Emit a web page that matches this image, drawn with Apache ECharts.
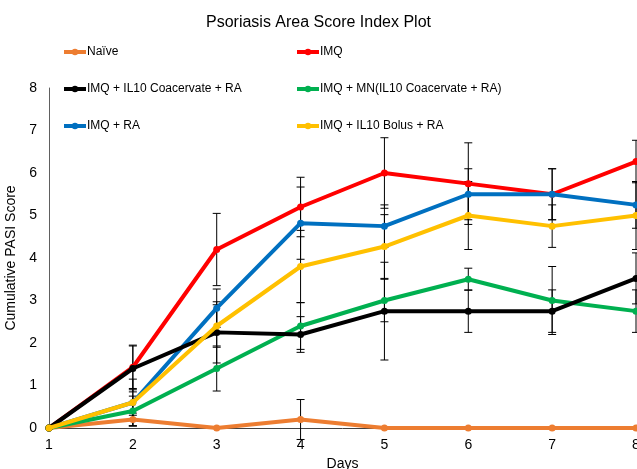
<!DOCTYPE html>
<html><head><meta charset="utf-8">
<script src="https://cdn.jsdelivr.net/npm/echarts@6/dist/echarts.min.js"></script>
<style>html,body{margin:0;padding:0;background:#fff}#c{width:637px;height:469px}</style>
</head><body><div id="c"></div>
<script>
var days = [1, 2, 3, 4, 5, 6, 7, 8];
var seriesNames = ['Naïve', 'IMQ', 'IMQ + IL10 Coacervate + RA', 'IMQ + MN(IL10 Coacervate + RA)', 'IMQ + RA', 'IMQ + IL10 Bolus + RA'];
var naive = [0, 0.2, 0, 0.2, 0, 0, 0, 0];
var imq = [0, 1.43, 4.2, 5.2, 6.0, 5.75, 5.5, 6.27];
var coacervate = [0, 1.4, 2.25, 2.2, 2.75, 2.75, 2.75, 3.52];
var mn = [0, 0.4, 1.4, 2.4, 3.0, 3.5, 3.0, 2.75];
var ra = [0, 0.6, 2.82, 4.82, 4.75, 5.5, 5.5, 5.25];
var bolus = [0, 0.6, 2.4, 3.8, 4.27, 5.0, 4.75, 5.0];
var naiveErr = [0, 0.15, 0, 0.47, 0, 0, 0, 0];
var imqErr = [0, 0.5, 0.85, 0.7, 0.83, 0.96, 0.6, 0.5];
var coacervateErr = [0, 0.55, 0.72, 0.42, 1.15, 0.5, 0.5, 0.6];
var mnErr = [0, 0.35, 0.53, 0.55, 0.5, 0.26, 0.8, 0.5];
var raErr = [0, 0.55, 0.45, 0.85, 0.5, 0.6, 0.6, 0.55];
var bolusErr = [0, 0.3, 0.5, 0.85, 0.75, 0.8, 0.5, 0.8];
var colors = ['#ED7D31', '#FF0000', '#000000', '#00B050', '#0070C0', '#FFC000'];

var values = [naive, imq, coacervate, mn, ra, bolus];
var errs = [naiveErr, imqErr, coacervateErr, mnErr, raErr, bolusErr];

function errData(v, e) {
  var out = [];
  for (var i = 0; i < days.length; i++) {
    if (e[i] > 0) out.push([days[i], v[i] - e[i], v[i] + e[i]]);
  }
  return out;
}
function renderErr(params, api) {
  var x = api.value(0);
  var lo = api.coord([x, api.value(1)]);
  var hi = api.coord([x, api.value(2)]);
  var w = 4;
  var st = {stroke: '#000', lineWidth: 1};
  return {type: 'group', children: [
    {type: 'line', shape: {x1: hi[0], y1: hi[1], x2: lo[0], y2: lo[1]}, style: st},
    {type: 'line', shape: {x1: hi[0] - w, y1: hi[1], x2: hi[0] + w, y2: hi[1]}, style: st},
    {type: 'line', shape: {x1: lo[0] - w, y1: lo[1], x2: lo[0] + w, y2: lo[1]}, style: st}
  ]};
}

var drawOrder = [0, 1, 4, 3, 2, 5];
var series = [];
for (var k = 0; k < 6; k++) {
  series.push({type: 'custom', name: seriesNames[k] + ' err', renderItem: renderErr, data: errData(values[k], errs[k]), z: 1, silent: true, clip: false});
}
drawOrder.forEach(function (k, idx) {
  series.push({
    type: 'line', name: seriesNames[k],
    data: days.map(function (d, i) { return [d, values[k][i]]; }),
    color: colors[k], symbol: 'circle', symbolSize: 7, showSymbol: true,
    lineStyle: {width: 4, color: colors[k]}, itemStyle: {color: colors[k]},
    z: 2 + idx, clip: false
  });
});

var legendBase = {orient: 'vertical', padding: 0, itemGap: 25, itemWidth: 22, itemHeight: 8,
  lineStyle: {width: 4}, itemStyle: {borderWidth: 0},
  textStyle: {fontFamily: 'Liberation Sans, Arial', fontSize: 12, color: '#000', padding: [0, 0, 0, -4]}};
var chart = echarts.init(document.getElementById('c'));
chart.setOption({
  animation: false,
  backgroundColor: '#fff',
  title: {text: 'Psoriasis Area Score Index Plot', left: 'center', top: 10,
    textStyle: {fontFamily: 'Liberation Sans, Arial', fontSize: 16, fontWeight: 'normal', color: '#000'}},
  legend: [
    Object.assign({}, legendBase, {left: 62, top: 46, data: [seriesNames[0], seriesNames[2], seriesNames[4]]}),
    Object.assign({}, legendBase, {left: 295, top: 46, data: [seriesNames[1], seriesNames[3], seriesNames[5]]})
  ],
  grid: {left: 49, right: 1, top: 88, bottom: 41, outerBoundsMode: 'none', containLabel: false},
  xAxis: {type: 'value', min: 1, max: 8, interval: 1,
    name: 'Days', nameLocation: 'middle', nameGap: 28,
    nameTextStyle: {fontFamily: 'Liberation Sans, Arial', fontSize: 14, color: '#000'},
    axisLine: {lineStyle: {color: '#404040', width: 1}}, axisTick: {show: false},
    axisLabel: {fontFamily: 'Liberation Sans, Arial', fontSize: 14, color: '#000', margin: 10},
    splitLine: {show: false}},
  yAxis: {type: 'value', min: 0, max: 8, interval: 1,
    name: 'Cumulative PASI Score', nameLocation: 'middle', nameGap: 30, nameRotate: 90,
    nameTextStyle: {fontFamily: 'Liberation Sans, Arial', fontSize: 14, color: '#000'},
    axisLine: {show: true, lineStyle: {color: '#606060', width: 1}}, axisTick: {show: false},
    axisLabel: {fontFamily: 'Liberation Sans, Arial', fontSize: 14, color: '#000', margin: 12},
    splitLine: {show: false}},
  series: series
});
</script></body></html>
